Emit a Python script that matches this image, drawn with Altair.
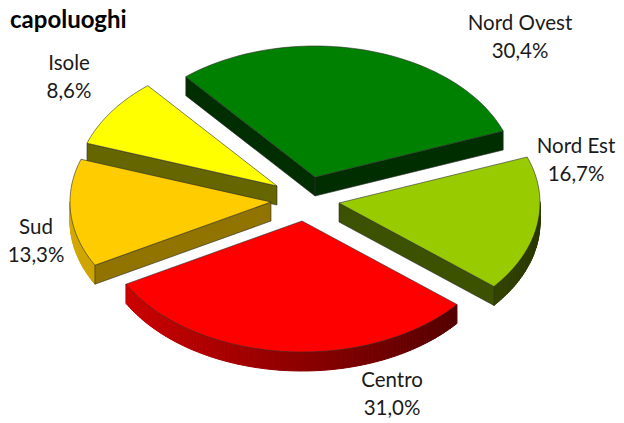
import math
import altair as alt

# --- data ---
regions = ["Nord Ovest", "Nord Est", "Centro", "Sud", "Isole"]
shares = [30.4, 16.7, 31.0, 13.3, 8.6]
share_labels = ["30,4%", "16,7%", "31,0%", "13,3%", "8,6%"]
chart_title = "capoluoghi"

# --- style / layout (page margin is 8px, so reference pixel = chart pixel + 8) ---
M = 8
top_colors = {"Nord Ovest": (0, 128, 0), "Nord Est": (153, 204, 0), "Centro": (255, 0, 0),
              "Sud": (255, 204, 0), "Isole": (255, 255, 0)}
side_shade = {"Nord Ovest": 0.36, "Nord Est": 0.4, "Centro": 0.4, "Sud": 0.57, "Isole": 0.4}
apex = {"Nord Ovest": (315, 177), "Nord Est": (339, 203), "Centro": (302, 221),
        "Sud": (271, 202), "Isole": (277, 186)}
label_at = {"Nord Ovest": (520, 24), "Nord Est": (576, 147), "Centro": (392, 381),
            "Sud": (36, 228), "Isole": (69, 64)}
paint_order = ["Nord Ovest", "Isole", "Sud", "Nord Est", "Centro"]
RX, RY, DEPTH, START = 201, 131, 19, -40
EDGE = "#2b2b2b"


def shade(rgb, f):
    return "#%02x%02x%02x" % tuple(int(round(c * f)) for c in rgb)


def rim(name, deg):
    ax, ay = apex[name]
    t = math.radians(deg)
    return (ax + RX * math.sin(t) - M, ay - RY * math.cos(t) - M)


def feature(pts, fill, stroke, sw):
    ring = [list(p) for p in pts] + [list(pts[0])]
    return {"type": "Feature", "geometry": {"type": "Polygon", "coordinates": [ring]},
            "properties": {"fill": fill, "stroke": stroke, "sw": sw}}


def down(p):
    return (p[0], p[1] + DEPTH)


spans, cum = {}, START
for name, v in zip(regions, shares):
    spans[name] = (cum, cum + v * 3.6)
    cum += v * 3.6

features = []
for name in paint_order:
    a0, a1 = spans[name]
    rgb = top_colors[name]
    c = (apex[name][0] - M, apex[name][1] - M)
    # outer wall, shaded strip by strip
    d = a0
    while d < a1:
        e = min(d + 1, a1)
        if 90 <= (d % 360) <= 270 or 90 <= (e % 360) <= 270:
            f = 0.55 - 0.28 * math.sin(math.radians((d + e) / 2))
            col = shade(rgb, f)
            features.append(feature([rim(name, d), rim(name, e), down(rim(name, e)), down(rim(name, d))],
                                    col, col, 1.0))
        d = e
    # radial side faces
    if math.sin(math.radians(a0)) < 0:
        p = rim(name, a0)
        features.append(feature([c, p, down(p), down(c)], shade(rgb, side_shade[name]), EDGE, 0.6))
    if math.sin(math.radians(a1)) > 0:
        p = rim(name, a1)
        features.append(feature([c, p, down(p), down(c)], shade(rgb, side_shade[name]), EDGE, 0.6))
    # top surface
    arc = [rim(name, a0 + (a1 - a0) * i / 60) for i in range(61)]
    features.append(feature([c] + arc, shade(rgb, 1), EDGE, 0.6))

pie = alt.Chart(alt.Data(values=features)).mark_geoshape(opacity=1).encode(
    fill=alt.Fill("properties.fill:N", scale=None, legend=None),
    stroke=alt.Stroke("properties.stroke:N", scale=None, legend=None),
    strokeWidth=alt.StrokeWidth("properties.sw:Q", scale=None, legend=None),
).project(type="identity", scale=1, translate=[0, 0])

label_rows = [{"t": f"{n}\n{s}", "lx": label_at[n][0] - M, "ly": label_at[n][1] - M}
              for n, s in zip(regions, share_labels)]
labels = alt.Chart(alt.Data(values=label_rows)).mark_text(
    font="Lato", fontSize=20.5, lineBreak="\n", lineHeight=28, align="center", baseline="middle", color="#1a1a1a"
).encode(x=alt.X("lx:Q", scale=None), y=alt.Y("ly:Q", scale=None), text="t:N")

title_rows = [{"t": chart_title, "lx": 2, "ly": 13}]
title = alt.Chart(alt.Data(values=title_rows)).mark_text(
    font="Lato", fontSize=24, fontWeight="bold", align="left", baseline="middle", color="#000000"
).encode(x=alt.X("lx:Q", scale=None), y=alt.Y("ly:Q", scale=None), text="t:N")

chart = alt.layer(pie, labels, title).properties(
    width=608, height=407, padding={"left": 0, "top": 0, "right": 0, "bottom": 8},
    autosize=alt.AutoSizeParams(type="none")
).configure_view(stroke=None)

chart.save("out.html", embed_options={"renderer": "svg", "actions": False})
